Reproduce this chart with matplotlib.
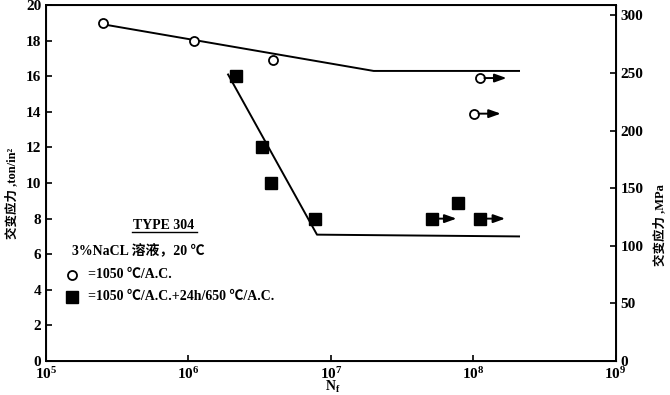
import matplotlib
matplotlib.use("Agg")
import matplotlib.pyplot as plt

plt.rcParams["font.family"] = ["Liberation Serif", "Noto Sans CJK SC"]
plt.rcParams["font.weight"] = "bold"
plt.rcParams["mathtext.fontset"] = "custom"
plt.rcParams["mathtext.rm"] = "Liberation Serif:bold"
plt.rcParams["mathtext.it"] = "Liberation Serif:bold"
plt.rcParams["mathtext.bf"] = "Liberation Serif:bold"

# solution treated (open circles)
circ_n = [2.5e5, 1.1e6, 3.9e6]
circ_s = [19.0, 18.0, 16.9]
circ_runout_n = [1.12e8, 1.02e8]
circ_runout_s = [15.9, 13.9]
circ_fit_n = [2.6e5, 2.0e7, 2.1e8]
circ_fit_s = [18.9, 16.3, 16.3]

# sensitised (filled squares)
sq_n = [2.15e6, 3.3e6, 3.8e6, 7.8e6, 7.8e7]
sq_s = [16.0, 12.0, 10.0, 8.0, 8.9]
sq_runout_n = [5.1e7, 1.12e8]
sq_runout_s = [8.0, 8.0]
sq_fit_n = [1.9e6, 8.0e6, 2.1e8]
sq_fit_s = [16.1, 7.1, 7.0]

TON_TO_MPA = 15.444
left_ticks = [0, 2, 4, 6, 8, 10, 12, 14, 16, 18, 20]
right_ticks = [0, 50, 100, 150, 200, 250, 300]
x_ticks = [1e5, 1e6, 1e7, 1e8, 1e9]

fig = plt.figure(figsize=(6.7, 3.95), dpi=100)
ax = fig.add_axes([0.0687, 0.0861, 0.850, 0.901])

ax.plot(circ_fit_n, circ_fit_s, color="black", lw=1.4)
ax.plot(sq_fit_n, sq_fit_s, color="black", lw=1.4)
ax.plot(circ_n + circ_runout_n, circ_s + circ_runout_s, "o", ms=6.5,
        mfc="white", mec="black", mew=1.3, ls="none", zorder=3)
ax.plot(sq_n + sq_runout_n, sq_s + sq_runout_s, "s", ms=8,
        mfc="black", mec="black", ls="none", zorder=3)

# run-out arrows
for n, s in zip(circ_runout_n, circ_runout_s):
    ax.annotate("", xy=(n, s), xytext=(19, 0), textcoords="offset points",
                arrowprops=dict(arrowstyle="<|-,head_length=0.7,head_width=0.25",
                                color="black", lw=1.4, shrinkA=0, shrinkB=3))
for n, s in zip(sq_runout_n, sq_runout_s):
    ax.annotate("", xy=(n, s), xytext=(18, 0), textcoords="offset points",
                arrowprops=dict(arrowstyle="<|-,head_length=0.7,head_width=0.25",
                                color="black", lw=1.4, shrinkA=0, shrinkB=4))

ax.set_xscale("log")
ax.set_xlim(1e5, 1e9)
ax.set_ylim(0, 20)
ax.set_xticks(x_ticks)
ax.xaxis.set_minor_locator(matplotlib.ticker.NullLocator())
ax.set_yticks(left_ticks)
ax.tick_params(direction="in", length=4, width=1.2, labelsize=11)
ax.tick_params(axis="x", pad=4)
for sp in ax.spines.values():
    sp.set_linewidth(1.4)

fig.text(0.497, 0.021, "N$_f$", fontsize=10, ha="center", va="center")

ax2 = ax.twinx()
ax2.set_ylim(0, 20 * TON_TO_MPA)
ax2.set_yticks(right_ticks)
ax2.tick_params(direction="in", length=4, width=1.2, labelsize=11)

fig.text(0.018, 0.51, "交变应力 ,ton/in²", rotation=90, fontsize=9,
         ha="center", va="center")
fig.text(0.985, 0.43, "交变应力 ,MPa", rotation=90, fontsize=9,
         ha="center", va="center")

# legend block
ax.text(0.207, 0.382, "TYPE 304", transform=ax.transAxes, fontsize=10,
        ha="center", va="center")
ax.plot([0.151, 0.265], [0.362, 0.362], color="black", lw=1.0,
        transform=ax.transAxes)
ax.text(0.046, 0.312, "3%NaCL 溶液，20 ℃", transform=ax.transAxes,
        fontsize=10, ha="left", va="center")
ax.plot([0.0456], [0.242], "o", ms=6.5, mfc="white", mec="black", mew=1.3,
        transform=ax.transAxes)
ax.text(0.074, 0.242, "=1050 ℃/A.C.", transform=ax.transAxes, fontsize=10,
        ha="left", va="center")
ax.plot([0.0456], [0.180], "s", ms=8, mfc="black", mec="black",
        transform=ax.transAxes)
ax.text(0.074, 0.180, "=1050 ℃/A.C.+24h/650 ℃/A.C.", transform=ax.transAxes,
        fontsize=10, ha="left", va="center")

fig.savefig("out.png", dpi=100)
